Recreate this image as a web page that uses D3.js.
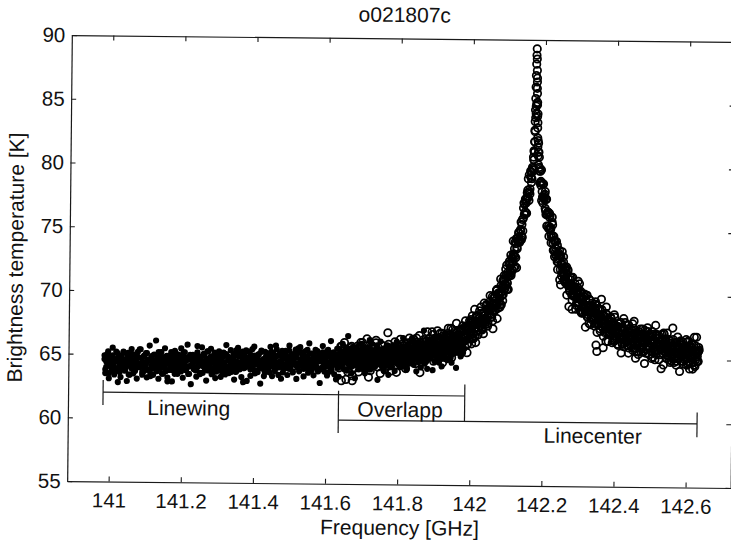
<!DOCTYPE html>
<html>
<head>
<meta charset="utf-8">
<script src="https://cdn.jsdelivr.net/npm/d3@7"></script>
<style>
  html, body { margin: 0; padding: 0; background: #fff; }
  svg { display: block; font-family: "Liberation Sans", Arial, Helvetica, sans-serif; }
  .axis .domain { stroke: #1a1a1a; stroke-width: 1.2; }
  .axis .tick line { stroke: #1a1a1a; stroke-width: 1.1; }
  .axis .tick text { fill: #111; font-size: 20.5px; font-family: "Liberation Sans", Arial, Helvetica, sans-serif; }
</style>
</head>
<body>
<svg id="chart" width="731" height="540"></svg>
<script>
// ---- labels and ticks ----
const chartTitle = "o021807c";
const xTitle = "Frequency [GHz]";
const yTitle = "Brightness temperature [K]";
const xTicks = [141, 141.2, 141.4, 141.6, 141.8, 142, 142.2, 142.4, 142.6];
const xTickLabels = ["141", "141.2", "141.4", "141.6", "141.8", "142", "142.2", "142.4", "142.6"];
const yTicks = [55, 60, 65, 70, 75, 80, 85, 90];
const yTickLabels = ["55", "60", "65", "70", "75", "80", "85", "90"];

// ---- line-wing spectrometer: first channel, channel spacing [GHz], two sweeps of Tb [K] ----
const wingStart = 140.985, wingStep = 0.0025;
const wingTb = [
  64.6,63.8,64.4,65.0,64.1,63.5,64.7,64.3,64.0,64.9,64.2,64.5,63.7,65.2,63.9,64.4,64.8,63.6,64.5,64.2,
  64.0,65.1,64.3,63.8,64.6,64.1,64.9,63.4,64.4,64.7,63.9,64.5,65.0,64.2,63.7,64.6,64.3,64.8,64.0,65.4,
  64.1,64.7,63.6,64.4,64.9,64.0,64.2,65.1,63.8,64.5,64.6,63.3,64.8,64.3,63.9,65.0,64.1,64.4,63.7,64.7,
  65.2,64.2,63.9,64.6,63.5,64.5,64.8,64.0,64.3,64.9,62.9,64.4,64.7,64.1,65.0,63.8,64.6,64.2,65.3,63.7,
  64.6,64.0,65.0,64.3,64.7,63.7,64.4,64.9,64.1,65.2,64.5,63.9,64.6,64.8,63.5,65.0,64.2,64.7,64.3,64.0,
  64.9,64.5,63.8,65.7,64.1,64.6,63.6,64.8,64.4,64.2,65.1,64.0,64.5,64.7,63.8,65.3,64.3,64.1,64.9,64.4,
  63.9,64.7,65.2,64.2,63.7,64.5,64.8,64.0,65.0,64.3,64.6,63.5,64.9,64.4,64.1,65.1,63.8,64.6,64.8,64.2,
  64.6,63.7,64.8,65.1,64.1,64.5,65.4,64.3,64.0,64.9,64.4,65.2,64.2,64.7,62.9,65.0,64.6,64.1,65.3,64.3,
  64.4,64.9,63.9,64.7,65.5,64.2,64.5,65.0,63.8,64.8,64.3,65.1,64.1,64.6,65.3,64.0,64.7,64.4,63.7,64.9,
  65.2,64.4,64.7,64.1,64.9,65.3,64.2,64.6,64.8,63.9,65.8,64.3,65.0,64.5,64.1,65.2,64.6,64.9,63.7,64.8,
  64.2,65.1,64.8,64.5,64.0,65.4,64.7,64.3,65.0,63.8,64.6,65.2,64.4,64.9,64.1,65.6,64.2,64.7,65.3,64.3,
  64.9,64.0,64.6,65.0,64.4,65.5,64.1,64.7,65.2,64.3,63.9,64.8,65.1,64.5,64.9,64.2,65.4,64.0,64.6,64.8,
  64.0,64.8,65.3,64.4,65.1,64.7,64.2,65.4,64.5,65.0,63.8,65.2,64.8,64.3,65.3,64.6,64.9,63.2,65.1,64.7,
  65.6,64.5,65.0,64.2,64.9,65.3,64.6,64.0,65.2,64.8,65.5,64.4,65.1,64.7,64.2,65.7,64.5,65.0,65.3,64.3,
  64.9,65.5,64.5,65.1,64.8,64.2,65.2,65.7,64.4,65.0,65.3,64.7,64.0,65.5,65.1,64.6,66.0,64.8,64.5,65.2,
  64.8,65.4,65.7,64.5,65.1,64.7,65.6,65.0,64.2,65.5,65.2,64.6,65.3,65.9,64.4,65.1,64.8,65.4,64.3,65.6,
  65.6,65.0,64.7,65.9,64.8,65.3,65.1,64.5,65.5,65.8,64.9,65.4,64.6,65.2,65.7,64.2,65.3,64.8,65.6,65.0,
  64.7,65.6,65.4,65.1,66.2,64.9,65.8,65.3,64.6,65.5,65.7,65.0,66.1,64.8,65.4,65.6,65.2,64.7,66.3,65.1,
  65.7,65.0,66.2,65.6,65.2,65.9,64.7,66.1,65.5,65.3,66.0,65.1,65.7,66.6,64.9,65.8,65.4,66.2,65.0,65.5,
  66.1,65.4,65.6,66.3,65.0,65.9,66.5,65.3,65.8,66.2,65.8,65.4,66.3,66.7,65.7,66.1,66.9,65.5,66.2,66.4
];
const wingTb2 = [
  64.9,63.5,64.0,64.5,65.2,63.1,64.1,64.8,63.7,65.5,64.3,63.4,64.6,63.8,65.1,62.8,64.9,64.1,63.2,64.8,
  63.8,65.2,64.3,63.7,64.6,62.9,65.1,64.1,63.4,64.8,65.4,64.0,63.5,64.5,63.8,64.9,63.1,65.2,64.3,64.0,
  65.4,64.1,63.4,64.8,63.7,64.3,65.1,63.2,64.6,63.8,65.7,63.5,64.1,64.9,63.4,64.5,64.0,66.1,63.7,64.3,
  63.1,64.8,64.0,65.2,64.1,63.5,64.6,65.5,63.7,64.3,63.2,64.9,63.8,64.5,65.2,62.9,64.8,64.0,63.5,65.1,
  64.4,63.5,65.0,64.1,64.6,65.5,63.9,63.2,65.2,64.2,63.8,64.7,65.8,63.5,64.1,64.9,62.7,64.6,65.0,63.9,
  64.7,63.8,63.3,65.2,64.2,64.9,63.5,64.4,65.6,63.6,64.1,65.0,63.9,63.0,65.3,64.2,64.7,63.8,65.5,63.5,
  63.6,64.6,65.0,63.2,64.9,64.1,64.4,65.3,63.8,63.3,64.7,63.9,65.2,64.2,63.5,65.8,64.1,64.9,63.6,64.6,
  65.4,64.0,64.3,64.8,63.1,65.1,63.7,64.5,65.6,64.2,63.9,65.0,63.3,65.3,64.3,64.0,64.7,65.4,63.0,64.8,
  64.2,65.3,63.4,64.3,65.0,63.9,65.7,63.6,64.5,64.8,63.7,65.1,64.2,62.8,65.4,64.0,64.7,63.4,65.3,64.5,
  64.0,65.1,64.8,63.7,65.7,64.3,63.4,65.2,64.4,63.8,64.9,65.5,64.1,63.5,65.1,64.4,63.2,65.4,64.3,64.0,
  64.1,65.4,64.4,63.5,64.9,65.8,64.0,64.6,65.1,63.7,64.8,64.3,65.5,63.2,65.2,64.4,63.8,65.7,64.3,64.8,
  65.1,63.4,64.6,65.4,64.1,64.9,63.7,66.0,64.4,64.0,65.2,64.3,63.5,64.8,65.5,64.1,64.6,63.8,65.1,62.9,
  65.0,64.1,65.8,64.5,63.8,65.2,64.9,63.5,65.5,64.4,64.2,66.2,63.9,64.7,65.3,63.6,65.0,64.5,65.6,64.1,
  63.4,65.0,65.4,64.3,66.0,64.5,64.0,65.3,64.8,63.9,66.6,64.6,64.2,65.1,63.7,65.6,64.3,65.0,63.3,65.7,
  64.6,65.5,64.0,65.1,64.4,66.0,64.9,64.1,65.4,63.7,64.7,65.7,64.6,64.3,66.3,64.0,65.2,64.4,65.1,65.5,
  64.2,64.8,65.9,63.2,65.5,64.7,66.2,64.4,65.0,65.3,63.9,65.6,64.8,64.5,65.9,63.6,65.2,65.5,64.2,65.0,
  65.9,64.6,63.9,65.4,66.2,64.9,64.5,65.7,64.2,65.3,64.8,66.5,64.3,65.1,65.6,64.0,66.0,64.8,64.5,65.4,
  65.1,66.5,64.8,64.4,65.9,65.3,63.9,65.6,66.1,64.7,65.5,64.2,65.8,65.0,67.1,64.5,65.1,65.9,64.1,65.6,
  65.7,64.9,66.4,65.2,64.0,66.0,65.5,64.7,66.6,65.0,65.8,64.6,66.1,65.3,64.3,66.3,65.2,65.7,66.7,64.9,
  64.8,66.0,65.5,66.5,65.2,64.6,66.3,65.7,65.4,66.8,64.2,66.5,65.4,66.2,66.8,65.1,66.0,65.5,67.4,65.7
];

// ---- line-center spectrometer: first channel, channel spacing [GHz], sweeps of Tb [K] ----
const centerStart = 141.635, centerStep = 0.0025;
const centerTb = [
  65.3,65.1,64.4,65.8,65.0,64.6,65.6,65.2,63.2,64.7,65.4,65.0,64.5,65.7,65.1,63.1,65.5,64.8,64.6,65.3,
  65.0,64.5,65.7,64.9,65.3,64.4,66.1,65.2,64.6,65.5,64.8,65.0,65.6,63.4,65.4,64.7,65.1,65.7,64.5,65.2,
  64.9,66.1,64.5,65.0,65.4,65.2,64.6,65.9,64.8,65.5,65.3,64.4,65.1,65.6,64.7,66.0,64.9,65.2,65.4,64.5,
  65.2,65.8,65.0,65.5,64.4,65.9,65.4,64.8,65.6,65.1,66.0,65.7,64.7,65.3,65.5,65.0,66.1,64.9,65.2,65.8,
  66.2,64.9,66.0,65.4,65.7,65.0,66.5,65.9,65.2,65.8,66.1,64.8,65.6,66.2,65.3,65.7,65.1,66.3,66.0,65.4,
  66.2,65.5,65.8,67.0,65.6,66.1,66.5,65.0,65.7,66.3,66.2,65.6,66.9,66.4,65.4,66.0,66.3,65.7,66.7,66.1,
  65.9,66.9,66.6,66.1,67.3,65.8,66.3,66.7,66.0,67.1,66.6,67.0,65.8,66.4,67.1,66.7,66.0,66.8,66.3,67.4,
  66.8,67.3,65.4,67.2,67.0,67.7,66.8,67.3,67.8,66.5,67.7,67.3,68.3,67.1,67.7,68.1,67.5,68.5,68.0,67.3,
  68.3,68.1,67.6,69.1,68.0,68.8,68.5,69.2,69.0,68.2,68.7,69.7,69.3,68.8,70.3,69.3,70.0,69.7,69.2,70.2,
  69.9,71.1,70.7,70.4,72.0,70.7,71.7,71.4,72.4,72.0,71.5,72.9,72.5,73.1,74.1,72.9,73.7,74.2,74.8,74.2,
  75.0,74.3,75.9,76.0,77.1,76.5,77.2,78.0,77.6,79.4,77.9,79.2,79.6,79.9,81.3,82.8,84.2,86.2,83.5,81.9,
  80.8,78.8,78.9,78.8,77.7,78.7,77.6,76.8,77.5,76.3,76.5,75.2,76.1,75.3,74.7,75.7,74.6,73.5,74.2,73.4,
  73.1,73.9,72.6,72.9,73.1,70.8,72.5,71.8,72.6,71.7,72.0,70.9,71.0,72.0,70.9,70.4,71.2,70.8,69.6,70.4,
  70.0,70.5,70.2,69.4,70.6,69.5,69.7,70.2,68.7,69.7,69.3,69.9,68.9,69.6,69.2,68.3,68.7,69.7,69.1,68.2,
  68.7,69.1,68.2,68.4,69.3,66.1,65.6,68.4,67.8,68.9,67.9,68.0,68.4,65.9,68.1,67.5,69.1,67.1,67.8,68.1,
  67.1,67.4,67.7,67.2,67.9,66.4,67.6,67.4,66.6,67.2,67.8,66.7,67.5,66.9,66.2,67.2,66.7,67.4,66.4,67.0,
  66.1,67.7,66.6,66.9,66.1,67.3,66.4,67.0,66.6,65.1,67.1,66.5,66.2,67.0,66.7,65.6,66.7,66.0,66.3,67.3,
  66.8,65.8,66.5,66.1,67.0,65.9,66.3,66.8,65.2,66.5,66.4,65.7,67.0,66.1,65.8,66.7,66.2,65.4,66.5,65.9,
  67.1,65.7,66.4,65.9,66.2,65.3,65.7,66.5,66.0,65.4,66.1,65.8,64.8,66.3,65.5,65.9,65.1,65.6,66.4,65.3,
  65.5,65.8,64.9,66.1,65.6,65.1,66.4,64.9,65.7,65.4,66.1,65.2,65.5,65.8,64.6,65.2,66.1,65.5,64.9,65.7
];
const centerTb2 = [
  64.1,64.7,65.8,63.1,65.4,64.6,66.1,64.3,64.9,65.2,63.8,65.5,64.7,64.4,65.8,63.5,65.1,65.4,64.1,64.9,
  65.8,64.5,63.8,65.3,66.1,64.8,64.4,65.6,64.1,65.2,64.7,66.4,64.2,65.0,65.5,63.9,65.9,64.7,64.4,65.3,
  64.9,66.3,64.6,64.2,65.7,65.1,63.7,65.4,65.9,64.5,65.3,64.0,65.6,64.8,66.9,64.3,64.9,65.7,63.9,65.4,
  65.5,64.7,66.2,65.0,63.8,65.8,65.3,64.5,66.4,64.8,65.6,64.4,65.9,65.1,64.1,66.1,65.0,65.5,66.5,64.7,
  64.7,65.9,65.4,66.4,65.1,64.5,66.2,65.6,65.3,66.7,63.8,66.1,65.0,65.8,66.4,64.7,65.6,65.1,67.0,65.3,
  66.5,65.1,65.6,66.1,66.8,64.7,65.7,66.4,65.3,67.1,66.1,65.2,66.4,65.6,66.9,64.6,66.7,65.9,65.0,66.6,
  65.9,67.3,66.4,65.8,66.7,65.0,67.2,66.2,65.5,66.9,67.7,66.3,65.8,66.8,66.1,67.2,65.4,67.5,66.6,66.3,
  67.9,66.7,66.0,67.5,66.5,67.1,68.0,66.1,67.6,66.9,68.8,66.7,67.4,68.2,66.8,67.9,67.5,69.0,67.3,68.0,
  66.9,68.6,67.9,69.2,68.2,67.7,68.9,69.9,68.2,68.9,67.9,69.7,68.7,69.5,70.3,68.1,70.1,69.4,69.0,70.7,
  70.2,69.5,71.2,70.5,71.2,72.3,70.9,70.4,72.6,71.8,71.7,72.8,74.2,72.1,73.0,74.0,72.1,74.2,74.9,74.1,
  75.1,74.6,74.5,76.8,76.3,77.5,76.4,77.6,79.1,77.4,78.3,79.6,79.1,79.8,80.6,82.0,84.8,87.0,84.2,81.2,
  80.0,79.9,78.6,77.4,78.7,77.6,77.5,78.1,76.3,75.4,76.5,75.4,76.4,75.1,74.1,76.1,74.1,74.6,73.0,73.7,
  74.2,72.6,72.8,73.1,71.2,73.0,71.5,72.1,73.0,71.5,71.0,71.9,70.0,71.9,70.7,70.3,70.8,71.4,68.9,70.6,
  69.9,70.9,68.9,69.8,70.4,69.2,70.9,68.8,69.6,69.8,68.6,69.9,69.0,67.5,70.0,68.5,69.1,67.8,69.6,68.7,
  68.1,69.1,68.7,67.6,69.5,68.1,67.1,68.9,68.0,67.4,68.4,68.9,67.5,66.8,68.4,67.6,66.4,68.5,67.4,67.0,
  67.0,68.3,67.2,66.3,67.6,68.5,66.6,67.2,67.6,66.2,67.2,66.7,67.9,65.5,67.5,66.7,66.0,67.9,66.5,67.0,
  67.2,65.5,66.7,67.4,66.1,66.9,65.7,68.0,66.3,65.9,67.1,66.2,65.4,66.7,67.4,65.9,66.4,65.6,66.9,64.7,
  66.7,65.8,67.5,66.1,65.4,66.8,66.5,65.1,67.0,65.9,65.7,67.7,65.4,66.2,66.7,65.0,66.4,65.9,67.0,65.5,
  64.6,66.2,66.5,65.4,67.1,65.6,65.0,66.3,65.8,64.9,67.5,65.5,65.1,66.0,64.6,66.4,65.1,65.8,64.1,66.5,
  65.3,66.2,64.7,65.8,65.0,66.6,65.5,64.7,66.0,64.3,65.3,66.3,65.2,64.8,66.8,64.5,65.7,64.9,65.6,66.0
];
// third sweep, interleaved half a channel, covering the line and the upper wing
const centerStart3 = 141.98625;
const centerTb3 = [
  66.6,67.4,66.1,67.2,67.9,66.8,67.1,68.3,66.6,67.7,67.9,66.2,68.3,67.7,67.2,68.7,67.5,68.0,67.2,68.5,
  69.3,68.1,67.8,68.8,67.5,68.9,69.4,68.4,68.9,69.8,67.3,69.3,69.8,69.1,70.4,68.9,70.1,69.7,71.2,69.2,
  70.6,70.0,71.5,70.8,71.5,70.4,71.5,72.4,71.5,73.1,72.5,71.9,73.2,73.6,72.2,74.4,73.6,74.5,74.3,74.2,
  75.7,75.5,75.0,77.2,76.3,77.4,76.4,78.2,78.0,78.1,79.7,78.8,80.0,80.8,81.2,83.9,85.0,85.1,82.1,81.2,
  79.7,79.7,79.8,78.1,77.2,77.8,77.9,76.6,77.5,76.3,76.4,74.6,76.2,75.2,74.5,75.5,73.5,74.3,74.2,73.1,
  73.3,72.0,73.3,73.5,72.0,72.4,73.4,71.7,71.2,72.2,71.4,72.2,70.8,71.3,69.1,71.4,70.7,70.0,71.4,70.0,
  70.1,70.6,69.2,70.2,71.1,69.4,69.7,70.3,68.6,69.8,69.1,70.1,68.7,69.2,70.0,68.3,69.2,68.7,67.7,69.2,
  69.4,68.3,68.6,67.8,68.8,69.2,67.8,68.2,68.5,67.2,69.7,67.6,68.5,67.8,67.1,68.6,67.7,68.1,66.4,67.9,
  67.0,68.2,67.7,67.3,66.5,68.3,67.3,66.8,67.6,66.1,67.0,67.8,66.7,67.3,66.2,68.2,66.3,66.9,67.7,66.4,
  67.1,65.9,66.6,67.1,66.3,67.8,65.9,66.6,67.3,66.1,65.6,66.8,67.2,66.4,66.8,65.9,67.4,65.6,66.4,66.7,
  65.5,66.5,67.2,65.9,66.8,66.3,65.6,67.2,65.9,66.6,65.0,66.9,66.3,65.7,66.9,66.0,66.4,64.3,66.6,66.1,
  67.0,65.6,66.2,65.1,66.0,66.6,65.5,64.8,66.3,65.8,66.6,65.2,66.1,65.6,64.9,66.8,65.2,65.9,66.3,64.9,
  65.6,66.4,65.1,65.9,65.4,64.6,65.9,66.5,64.8,65.6,66.0,65.2,64.3,66.2,65.7,65.0,66.8,65.3,64.9,65.8
];

// fine channels around the line peak [GHz], [K]
const coreFreq = [142.1700,142.1710,142.1715,142.1720,142.1725,142.1730,142.1735,142.1740,142.1745,142.1750,142.1755,142.1760,
                  142.1765,142.1770,142.1775,142.1780,142.1785,142.1790,142.1795,142.1800,142.1805,142.1815,142.1825];
const coreTb   = [80.6,81.2,82.0,82.9,83.6,84.5,85.4,86.3,87.2,88.1,88.8,89.3,
                  88.5,87.6,86.7,85.8,84.9,84.0,83.1,82.3,81.6,80.9,80.2];

// ---- frequency ranges of the two spectrometers ----
const spanFrom  = [140.982, 141.635];
const spanTo    = [141.985, 142.630];
const spanLevel = [62.0, 60.0];
const spanStartTick = [[62.95, 61.0], [62.3, 59.0]];
const spanEndTick   = [[62.9, 59.95], [60.9, 58.95]];
const spanLabels    = ["Linewing", "Overlapp", "Linecenter"];
const spanLabelFreq = [141.22, 141.806, 142.341];
const spanLabelTb   = [60.25, 60.3, 58.4];

// ---- drawing ----
const svg = d3.select("#chart");
const g = svg.append("g").attr("transform", "rotate(0.6 400 260)");

const x = d3.scaleLinear().domain([140.885, 142.725]).range([69.5, 733]);
const y = d3.scaleLinear().domain([55, 90]).range([484.5, 38.5]);
const [x0, x1] = x.range();
const [yb, yt] = y.range();
const xc = (x0 + x1) / 2 - 1;

// axes (inward ticks on all four sides)
g.append("g").attr("class", "axis").attr("transform", `translate(0,${yb})`)
  .call(d3.axisBottom(x).tickValues(xTicks).tickFormat((d, i) => xTickLabels[i])
    .tickSizeInner(-5).tickSizeOuter(0).tickPadding(11.5));
g.append("g").attr("class", "axis").attr("transform", `translate(0,${yt})`)
  .call(d3.axisTop(x).tickValues(xTicks).tickFormat("").tickSizeInner(-5).tickSizeOuter(0));
g.append("g").attr("class", "axis").attr("transform", `translate(${x0},0)`)
  .call(d3.axisLeft(y).tickValues(yTicks).tickFormat((d, i) => yTickLabels[i])
    .tickSizeInner(-5).tickSizeOuter(0).tickPadding(6.5));
g.append("g").attr("class", "axis").attr("transform", `translate(${x1},0)`)
  .call(d3.axisRight(y).tickValues(yTicks).tickFormat("").tickSizeInner(-5).tickSizeOuter(0));

// line-center channels: open circles
const sweep = (tb, start, step) => tb.map((t, i) => ({ f: start + i * step, t }));
const center = sweep(centerTb, centerStart, centerStep)
  .concat(sweep(centerTb2, centerStart, centerStep))
  .concat(sweep(centerTb3, centerStart3, centerStep))
  .concat(coreTb.map((t, i) => ({ f: coreFreq[i], t })));
g.append("g").selectAll("circle").data(center).join("circle")
  .attr("cx", d => x(d.f)).attr("cy", d => y(d.t)).attr("r", 3.7)
  .attr("fill", "none").attr("stroke", "#000").attr("stroke-width", 1.75);

// line-wing channels: filled dots
const wing = sweep(wingTb, wingStart, wingStep).concat(sweep(wingTb2, wingStart, wingStep));
g.append("g").selectAll("circle").data(wing).join("circle")
  .attr("cx", d => x(d.f)).attr("cy", d => y(d.t)).attr("r", 3.1)
  .attr("fill", "#000");

// range brackets
const br = g.append("g").attr("stroke", "#1a1a1a").attr("stroke-width", 1.2);
spanFrom.forEach((f0, i) => {
  br.append("line").attr("x1", x(f0)).attr("x2", x(spanTo[i]))
    .attr("y1", y(spanLevel[i])).attr("y2", y(spanLevel[i]));
  br.append("line").attr("x1", x(f0)).attr("x2", x(f0))
    .attr("y1", y(spanStartTick[i][0])).attr("y2", y(spanStartTick[i][1]));
  br.append("line").attr("x1", x(spanTo[i])).attr("x2", x(spanTo[i]))
    .attr("y1", y(spanEndTick[i][0])).attr("y2", y(spanEndTick[i][1]));
});
g.append("g").selectAll("text").data(spanLabels).join("text")
  .attr("x", (d, i) => x(spanLabelFreq[i])).attr("y", (d, i) => y(spanLabelTb[i]))
  .attr("text-anchor", "middle").attr("font-size", 21).attr("fill", "#111")
  .text(d => d);

// titles
g.append("text").attr("x", xc + 2).attr("y", 22).attr("text-anchor", "middle")
  .attr("font-size", 21).attr("fill", "#111").text(chartTitle);
g.append("text").attr("x", xc + 2).attr("y", 535).attr("text-anchor", "middle")
  .attr("font-size", 21).attr("fill", "#111").text(xTitle);
g.append("text").attr("transform", `translate(23,${(yb + yt) / 2}) rotate(-90)`)
  .attr("text-anchor", "middle").attr("font-size", 21).attr("fill", "#111").text(yTitle);
</script>
</body>
</html>
